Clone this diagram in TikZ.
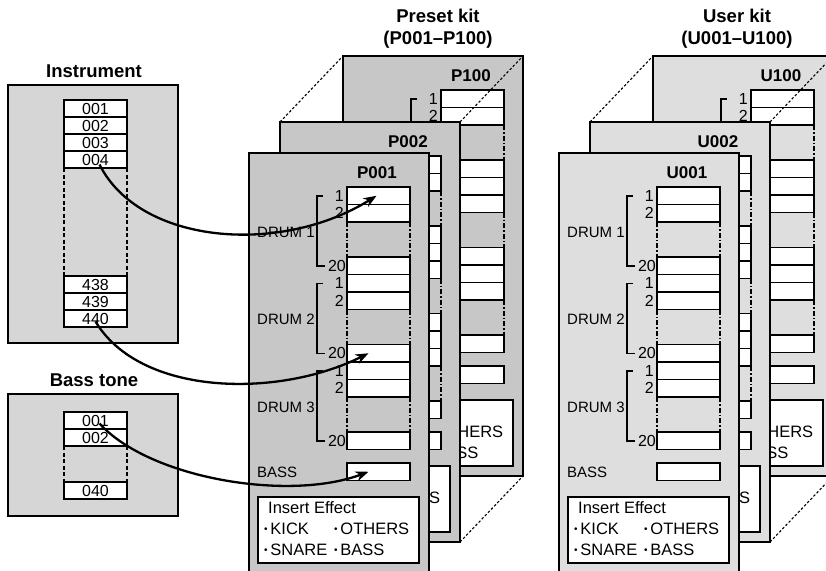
\documentclass[tikz,border=0pt]{standalone}
\usepackage{fontspec}
\setmainfont{Liberation Sans}
\usepackage{xcolor}
\usepackage{tikz}
\usetikzlibrary{arrows.meta,positioning}

\definecolor{presetgray}{gray}{0.78}
\definecolor{usergray}{gray}{0.87}
\definecolor{srcgray}{gray}{0.84}

\newcommand{\fs}[1]{\fontsize{#1}{#1}\selectfont}
\newcommand{\dotmark}{{\fs{10}\raisebox{2pt}{\textbullet}}}

\tikzset{
 kitbox/.style={draw,line width=1.3pt,anchor=north west,minimum width=180,minimum height=420,inner sep=0,outer sep=0},
 srcbox/.style={draw,line width=1.3pt,fill=srcgray,anchor=north west,minimum width=170,inner sep=0,outer sep=0},
 slot/.style={draw,line width=1.2pt,fill=white,anchor=north west,minimum width=63,minimum height=17,inner sep=0,outer sep=0,font=\fs{16}},
 kitslot/.style={slot,minimum height=17.5},
 gapline/.style={line width=1.1pt,dash pattern=on 4pt off 2.5pt},
 kitgap/.style={line width=1.1pt,dash pattern=on 5pt off 2pt on 1.5pt off 2pt},
 persp/.style={line width=1.1pt,dash pattern=on 2.5pt off 2pt},
 headtext/.style={font=\bfseries\fs{18.5}},
 kitname/.style={font=\bfseries\fs{17}},
 numlabel/.style={font=\fs{16},inner sep=0},
 partlabel/.style={font=\fs{15},anchor=west,inner sep=0},
 fxtext/.style={font=\fs{16.5},anchor=west,inner sep=0},
 linkarrow/.style={line width=2.3pt,-{Stealth[length=13pt,width=10pt]}},
}

% #1 name, #2 x, #3 y, #4 label, #5 fill
\newcommand{\kitpanel}[5]{%
\begin{scope}[shift={(#2,#3)}]
 \node[kitbox,fill=#5] (#1) at (0,0) {};
 \node[kitname] (#1-name) at (128,20) {#4};
 \foreach \k/\ty in {1/34,2/121.5,3/209}{
  \node[kitslot] (#1-a\k) at (98,\ty) {};
  \node[kitslot,below=0pt of #1-a\k] (#1-b\k) {};
  \node[kitslot] (#1-c\k) at (98,\ty+70) {};
  \draw[kitgap] (#1-b\k.south west) -- (#1-c\k.north west)
                (#1-b\k.south east) -- (#1-c\k.north east);
  \node[numlabel,left=3pt of #1-a\k] (#1-na\k) {1};
  \node[numlabel,left=3pt of #1-b\k] (#1-nb\k) {2};
  \node[numlabel,left=1pt of #1-c\k] (#1-nc\k) {20};
  \draw[line width=1.1pt] (74,\ty+9) -- (68,\ty+9) -- (68,\ty+79) -- (76,\ty+79);
  \node[partlabel] (#1-drum\k) at (8,\ty+45) {DRUM \k};
 }
 \node[kitslot] (#1-bass) at (98,310) {};
 \node[partlabel] (#1-basslabel) at (8,319) {BASS};
 \node[draw,line width=1.2pt,fill=white,anchor=north west,minimum width=161,minimum height=66,inner sep=0,outer sep=0] (#1-fx) at (9,344) {};
 \node[fxtext] (#1-fxhead) at (19,355) {Insert Effect};
 \node[fxtext] (#1-kick) at (15,376) {\dotmark\,KICK};
 \node[fxtext] (#1-others) at (85,376) {\dotmark\,OTHERS};
 \node[fxtext] (#1-snare) at (15,397) {\dotmark\,SNARE};
 \node[fxtext] (#1-bassfx) at (85,397) {\dotmark\,BASS};
\end{scope}}

\begin{document}
\begin{tikzpicture}[x=1pt,y=-1pt]
\clip (0,0) rectangle (826,570);

% sources
\node[headtext] (insttitle) at (94,71) {Instrument};
\node[srcbox,minimum height=258] (inst) at (8,85) {};
\node[slot] (i001) at (64,100) {001};
\node[slot,below=0pt of i001] (i002) {002};
\node[slot,below=0pt of i002] (i003) {003};
\node[slot,below=0pt of i003] (i004) {004};
\node[slot] (i438) at (64,276) {438};
\node[slot,below=0pt of i438] (i439) {439};
\node[slot,below=0pt of i439] (i440) {440};
\draw[gapline] (i004.south west) -- (i438.north west)
               (i004.south east) -- (i438.north east);

\node[headtext] (basstitle) at (94,380) {Bass tone};
\node[srcbox,minimum height=122] (bass) at (8,394) {};
\node[slot] (b001) at (64,412) {001};
\node[slot,below=0pt of b001] (b002) {002};
\node[slot] (b040) at (64,482) {040};
\draw[gapline] (b002.south west) -- (b040.north west)
               (b002.south east) -- (b040.north east);

% preset kits
\node[headtext] (presettitle) at (438,16) {Preset kit};
\node[headtext] (presetrange) at (438,40) {(P001--P100)};
\kitpanel{P100}{343}{56}{P100}{presetgray}
\kitpanel{P002}{280}{122}{P002}{presetgray}
\kitpanel{P001}{249}{153}{P001}{presetgray}
\foreach \c in {north west,north east,south east}
  \draw[persp] (P002.\c) -- (P100.\c);

% user kits
\node[headtext] (usertitle) at (737,16) {User kit};
\node[headtext] (userrange) at (737,40) {(U001--U100)};
\kitpanel{U100}{653}{56}{U100}{usergray}
\kitpanel{U002}{590}{122}{U002}{usergray}
\kitpanel{U001}{559}{153}{U001}{usergray}
\foreach \c in {north west,north east,south east}
  \draw[persp] (U002.\c) -- (U100.\c);

% assignments
\draw[linkarrow] ([xshift=4pt,yshift=-5pt]i004.center) .. controls +(40,80) and +(-96,60) .. ([xshift=-2pt]P001-a1.center);
\draw[linkarrow] ([yshift=-3pt]i440.center) .. controls +(45,75) and +(-90,45) .. ([xshift=-10pt]P001-c2.center);
\draw[linkarrow] ([xshift=4pt,yshift=-3pt]b001.center) .. controls +(50,55) and +(-80,30) .. ([xshift=-10pt]P001-bass.center);
\end{tikzpicture}
\end{document}
